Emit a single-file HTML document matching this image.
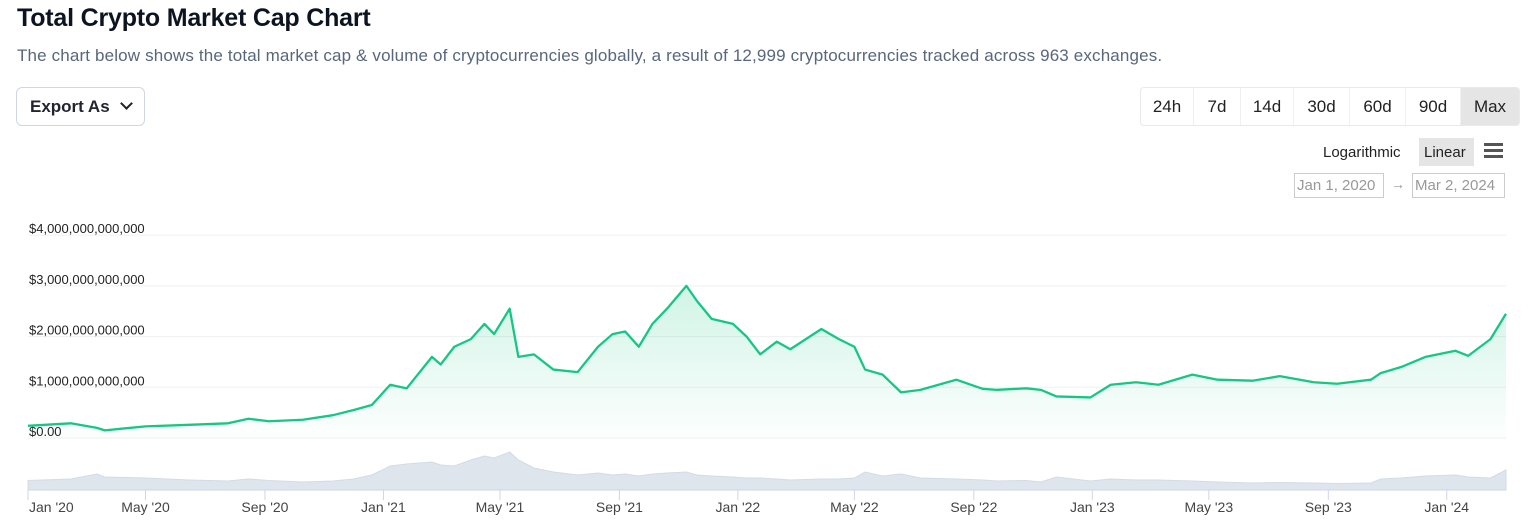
<!DOCTYPE html>
<html><head><meta charset="utf-8">
<style>
body{margin:0;width:1529px;height:531px;background:#fff;font-family:"Liberation Sans",sans-serif;position:relative;overflow:hidden}
.t{position:absolute;left:17px;top:4px;font-size:25px;font-weight:bold;color:#0d1421;letter-spacing:-0.2px}
.s{position:absolute;left:17px;top:46px;font-size:17px;color:#58667e;letter-spacing:0.15px}
.exp{position:absolute;left:16px;top:87px;width:129px;height:39px;border:1px solid #cfd6e4;border-radius:6px;box-sizing:border-box;font-size:17px;font-weight:bold;color:#222531;padding:9px 0 0 13px}
.rng{position:absolute;left:1140px;top:87px;height:37px;display:flex;border:1px solid #e6e9ef;border-radius:4px;overflow:hidden}
.rng div{font-size:17px;color:#222;padding:9px 0 0;text-align:center;border-right:1px solid #eef0f3;box-sizing:border-box}
.rng div.on{background:#e5e5e5;border:none}
.sc{position:absolute;top:138px;font-size:15px;color:#222;height:28px;padding-top:6px;box-sizing:border-box}
.dt{position:absolute;top:173px;height:25px;border:1px solid #ccc;font-size:15px;color:#999;padding:3px 2px 0;box-sizing:border-box}
</style></head><body>
<div class="t">Total Crypto Market Cap Chart</div>
<div class="s">The chart below shows the total market cap &amp; volume of cryptocurrencies globally, a result of 12,999 cryptocurrencies tracked across 963 exchanges.</div>
<div class="exp">Export As <span style="display:inline-block;width:7px;height:7px;border-right:2px solid #222;border-bottom:2px solid #222;transform:rotate(45deg);margin:0 0 4px 8px"></span></div>
<div class="rng">
<div style="width:53px">24h</div>
<div style="width:47px">7d</div>
<div style="width:53px">14d</div>
<div style="width:56px">30d</div>
<div style="width:56px">60d</div>
<div style="width:55px">90d</div>
<div class="on" style="width:58px">Max</div>
</div>
<div class="sc" style="left:1323px">Logarithmic</div>
<div class="sc" style="left:1419px;background:#e5e5e5;padding-left:5px;width:55px">Linear</div>
<div style="position:absolute;left:1484px;top:143px;width:19px">
<div style="height:3px;background:#555;margin-bottom:3px"></div><div style="height:3px;background:#555;margin-bottom:3px"></div><div style="height:3px;background:#555"></div></div>
<div class="dt" style="left:1294px;width:90px">Jan 1, 2020</div>
<div style="position:absolute;left:1391px;top:176px;color:#999;font-size:14px">→</div>
<div class="dt" style="left:1412px;width:93px">Mar 2, 2024</div>
<svg id="ch" width="1529" height="531" style="position:absolute;left:0;top:0">
<defs><linearGradient id="g" x1="0" y1="0" x2="0" y2="1"><stop offset="0" stop-color="#16c784" stop-opacity="0.2"/><stop offset="1" stop-color="#16c784" stop-opacity="0.01"/></linearGradient></defs>
</svg>
<script>
const capDates=["2020-01-01","2020-02-14","2020-03-12","2020-03-20","2020-05-01","2020-06-15","2020-07-25","2020-08-15","2020-09-05","2020-10-10","2020-11-10","2020-12-01","2020-12-20","2021-01-08","2021-01-25","2021-02-20","2021-03-01","2021-03-15","2021-04-01","2021-04-15","2021-04-25","2021-05-11","2021-05-20","2021-06-05","2021-06-25","2021-07-20","2021-08-10","2021-08-25","2021-09-07","2021-09-21","2021-10-05","2021-10-20","2021-11-09","2021-11-20","2021-12-05","2021-12-27","2022-01-10","2022-01-24","2022-02-10","2022-02-24","2022-03-28","2022-04-15","2022-05-01","2022-05-12","2022-05-30","2022-06-18","2022-07-08","2022-08-14","2022-09-10","2022-09-25","2022-10-25","2022-11-09","2022-11-25","2022-12-30","2023-01-20","2023-02-15","2023-03-10","2023-04-14","2023-05-10","2023-06-15","2023-07-13","2023-08-17","2023-09-10","2023-10-15","2023-10-25","2023-11-15","2023-12-10","2024-01-10","2024-01-23","2024-02-15","2024-03-02"];
const capValues=[0.24,0.29,0.2,0.15,0.23,0.26,0.29,0.38,0.33,0.36,0.45,0.55,0.65,1.05,0.98,1.6,1.45,1.8,1.95,2.25,2.05,2.55,1.6,1.65,1.35,1.3,1.8,2.05,2.1,1.8,2.25,2.55,3.0,2.7,2.35,2.25,2.0,1.65,1.9,1.75,2.15,1.95,1.8,1.35,1.25,0.9,0.95,1.15,0.97,0.95,0.98,0.95,0.82,0.8,1.05,1.1,1.05,1.25,1.15,1.13,1.22,1.1,1.07,1.15,1.28,1.4,1.6,1.72,1.62,1.95,2.45];
const volValues=[95,110,160,130,120,100,90,110,95,80,90,110,150,240,260,280,250,240,300,340,320,380,300,220,180,150,170,150,160,140,160,170,180,150,140,130,120,120,110,100,110,110,120,180,140,160,120,110,100,90,95,80,130,90,110,100,100,90,80,70,75,70,65,70,110,120,140,150,130,120,200];
const yTicks=[0,1,2,3,4];
const yLabels=["$0.00","$1,000,000,000,000","$2,000,000,000,000","$3,000,000,000,000","$4,000,000,000,000"];
const xTickDates=["2020-01-01","2020-05-01","2020-09-01","2021-01-01","2021-05-01","2021-09-01","2022-01-01","2022-05-01","2022-09-01","2023-01-01","2023-05-01","2023-09-01","2024-01-01"];
const xTickLabels=["Jan '20","May '20","Sep '20","Jan '21","May '21","Sep '21","Jan '22","May '22","Sep '22","Jan '23","May '23","Sep '23","Jan '24"];
const NS="http://www.w3.org/2000/svg",svg=document.getElementById('ch');
const d0=Date.parse("2020-01-01"),d1=Date.parse("2024-03-02");
const X=d=>28+(Date.parse(d)-d0)/(d1-d0)*(1506-28);
const Y=v=>438-v*50.7;
const VY=v=>490-v*0.1;
function mk(t,a){const e=document.createElementNS(NS,t);for(const k in a)e.setAttribute(k,a[k]);svg.appendChild(e);return e;}
yTicks.forEach((v,i)=>{
 const l=mk('line',{x1:28,x2:1506,y1:Y(v),y2:Y(v),stroke:'#eef0f3'});
 
 
 const t=mk('text',{x:29,y:Y(v)-2,'font-size':13,fill:'#222','font-family':'Liberation Sans'});t.textContent=yLabels[i];
 
 
});
let vp=`M${X(capDates[0])},490`;
capDates.forEach((d,i)=>{vp+=` L${X(d)},${VY(volValues[i])}`;});
vp+=` L${X(capDates[capDates.length-1])},490Z`;
const va=mk('path',{d:vp,fill:'#dfe5ec',stroke:'#d3dbe5','stroke-width':1});


let lp='';capDates.forEach((d,i)=>{lp+=(i?' L':'M')+X(d)+','+Y(capValues[i]);});
const ar=mk('path',{d:lp+` L${X(capDates[capDates.length-1])},438 L${X(capDates[0])},438Z`,fill:'url(#g)'});


const ln=mk('path',{d:lp,fill:'none',stroke:'#16c784','stroke-width':2.3,'stroke-linejoin':'round'});


const ax=mk('line',{x1:28,x2:1506,y1:490,y2:490,stroke:'#ccd6eb'});


xTickDates.forEach((d,i)=>{
 const tk=mk('line',{x1:X(d),x2:X(d),y1:490,y2:500,stroke:'#ccd6eb'});
 
 
 const t=mk('text',{x:i?X(d):29,y:512,'font-size':14,fill:'#444','text-anchor':i?'middle':'start','font-family':'Liberation Sans'});t.textContent=xTickLabels[i];
 
 
});
</script>
</body></html>
